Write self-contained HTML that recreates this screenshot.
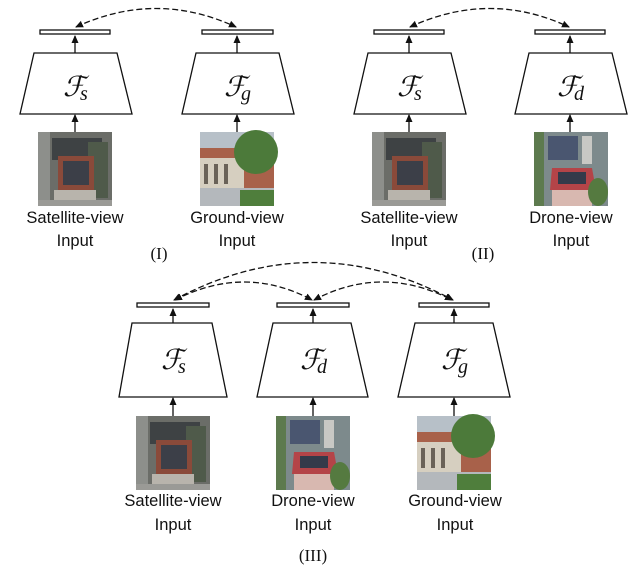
<!DOCTYPE html>
<html><head><meta charset="utf-8"><style>
html,body{margin:0;padding:0;background:#fff;}
svg{display:block;}
.lbl{font-family:"Liberation Sans",sans-serif;font-size:16.5px;fill:#111;text-anchor:middle;}
.rom{font-family:"Liberation Serif",serif;font-size:17px;fill:#111;text-anchor:middle;}
.F{font-family:"Liberation Serif","DejaVu Serif",serif;font-style:italic;font-size:28px;fill:#111;}
.sub{font-family:"Liberation Serif",serif;font-style:italic;font-size:20px;fill:#111;}
</style></head><body>
<svg width="640" height="575" viewBox="0 0 640 575" xmlns="http://www.w3.org/2000/svg">
<defs>
<marker id="ah" markerWidth="8" markerHeight="8" refX="7" refY="4" orient="auto-start-reverse" markerUnits="userSpaceOnUse"><path d="M0,0.5 L8,4 L0,7.5 z" fill="#111"/></marker>
<g id="sat">
<rect x="0" y="0" width="74" height="74" fill="#6b6d68"/>
<rect x="0" y="0" width="12" height="74" fill="#8d8f8b"/>
<rect x="14" y="6" width="50" height="22" fill="#3e4244"/>
<rect x="50" y="10" width="20" height="56" fill="#4f5a4a"/>
<rect x="20" y="24" width="36" height="34" fill="#8a4a3a"/>
<rect x="25" y="29" width="26" height="24" fill="#3c3f48"/>
<rect x="16" y="58" width="42" height="10" fill="#b8b4ac"/>
<rect x="0" y="68" width="74" height="6" fill="#9a9a96"/>
</g>
<g id="gnd">
<rect x="0" y="0" width="74" height="74" fill="#b7c0c8"/>
<rect x="0" y="16" width="74" height="40" fill="#a8614a"/>
<rect x="0" y="26" width="44" height="30" fill="#d6cfc0"/>
<rect x="4" y="32" width="4" height="20" fill="#6a6258"/><rect x="14" y="32" width="4" height="20" fill="#6a6258"/><rect x="24" y="32" width="4" height="20" fill="#6a6258"/>
<ellipse cx="56" cy="20" rx="22" ry="22" fill="#4c7a3a"/>
<rect x="0" y="56" width="74" height="18" fill="#b4b8bc"/>
<rect x="40" y="58" width="34" height="16" fill="#4f7e3c"/>
</g>
<g id="drn">
<rect x="0" y="0" width="74" height="74" fill="#7d8a8c"/>
<rect x="14" y="4" width="30" height="24" fill="#4a5670"/>
<rect x="48" y="4" width="10" height="28" fill="#c8c8c4"/>
<rect x="0" y="0" width="10" height="74" fill="#5d7a4e"/>
<polygon points="18,36 58,36 62,58 16,58" fill="#b44448"/>
<rect x="24" y="40" width="28" height="12" fill="#343a4a"/>
<rect x="18" y="58" width="40" height="16" fill="#d8b8b0"/>
<ellipse cx="64" cy="60" rx="10" ry="14" fill="#557a40"/>
</g>
</defs>

<g stroke="#111" stroke-width="1.3" fill="none">
<!-- Panel I -->
<rect x="40" y="30" width="70" height="4" fill="#fff"/>
<rect x="202" y="30" width="71" height="4" fill="#fff"/>
<polygon points="34,53 117,53 132,114 20,114" fill="#fff"/>
<polygon points="196,53 279,53 294,114 182,114" fill="#fff"/>
<path d="M75,53 L75,36" marker-end="url(#ah)"/>
<path d="M237,53 L237,36" marker-end="url(#ah)"/>
<path d="M75,132 L75,115" marker-end="url(#ah)"/>
<path d="M237,132 L237,115" marker-end="url(#ah)"/>
<path d="M76,27 Q156,-10 236,27" stroke-dasharray="6,3" marker-start="url(#ah)" marker-end="url(#ah)"/>

<!-- Panel II -->
<rect x="374" y="30" width="70" height="4" fill="#fff"/>
<rect x="535" y="30" width="70" height="4" fill="#fff"/>
<polygon points="368,53 451,53 466,114 354,114" fill="#fff"/>
<polygon points="529,53 612,53 627,114 515,114" fill="#fff"/>
<path d="M409,53 L409,36" marker-end="url(#ah)"/>
<path d="M570,53 L570,36" marker-end="url(#ah)"/>
<path d="M409,132 L409,115" marker-end="url(#ah)"/>
<path d="M570,132 L570,115" marker-end="url(#ah)"/>
<path d="M410,27 Q490,-10 569,27" stroke-dasharray="6,3" marker-start="url(#ah)" marker-end="url(#ah)"/>

<!-- Panel III -->
<rect x="137" y="303" width="72" height="4" fill="#fff"/>
<rect x="277" y="303" width="72" height="4" fill="#fff"/>
<rect x="419" y="303" width="70" height="4" fill="#fff"/>
<polygon points="132,323 212,323 227,397 119,397" fill="#fff"/>
<polygon points="273,323 351,323 368,397 257,397" fill="#fff"/>
<polygon points="415,323 493,323 510,397 398,397" fill="#fff"/>
<path d="M173,323 L173,309" marker-end="url(#ah)"/>
<path d="M313,323 L313,309" marker-end="url(#ah)"/>
<path d="M454,323 L454,309" marker-end="url(#ah)"/>
<path d="M173,416 L173,398" marker-end="url(#ah)"/>
<path d="M313,416 L313,398" marker-end="url(#ah)"/>
<path d="M454,416 L454,398" marker-end="url(#ah)"/>
<path d="M174,300 Q313,225 453,300" stroke-dasharray="6,3" marker-start="url(#ah)" marker-end="url(#ah)"/>
<path d="M175,300 Q245,264 312,300" stroke-dasharray="6,3" marker-start="url(#ah)" marker-end="url(#ah)"/>
<path d="M314,300 Q382,264 452,300" stroke-dasharray="6,3" marker-start="url(#ah)" marker-end="url(#ah)"/>
</g>

<use href="#sat" x="38" y="132"/>
<use href="#gnd" x="200" y="132"/>
<use href="#sat" x="372" y="132"/>
<use href="#drn" x="534" y="132"/>
<use href="#sat" x="136" y="416"/>
<use href="#drn" x="276" y="416"/>
<use href="#gnd" x="417" y="416"/>

<text x="63" y="96" class="F">ℱ</text><text x="80" y="100" class="sub">s</text>
<text x="224" y="96" class="F">ℱ</text><text x="241" y="100" class="sub">g</text>
<text x="397" y="96" class="F">ℱ</text><text x="414" y="100" class="sub">s</text>
<text x="557" y="96" class="F">ℱ</text><text x="574" y="100" class="sub">d</text>
<text x="161" y="369" class="F">ℱ</text><text x="178" y="373" class="sub">s</text>
<text x="300" y="369" class="F">ℱ</text><text x="317" y="373" class="sub">d</text>
<text x="441" y="369" class="F">ℱ</text><text x="458" y="373" class="sub">g</text>

<text x="75" y="223" class="lbl">Satellite-view</text><text x="75" y="246" class="lbl">Input</text>
<text x="237" y="223" class="lbl">Ground-view</text><text x="237" y="246" class="lbl">Input</text>
<text x="409" y="223" class="lbl">Satellite-view</text><text x="409" y="246" class="lbl">Input</text>
<text x="571" y="223" class="lbl">Drone-view</text><text x="571" y="246" class="lbl">Input</text>
<text x="173" y="506" class="lbl">Satellite-view</text><text x="173" y="530" class="lbl">Input</text>
<text x="313" y="506" class="lbl">Drone-view</text><text x="313" y="530" class="lbl">Input</text>
<text x="455" y="506" class="lbl">Ground-view</text><text x="455" y="530" class="lbl">Input</text>
<text x="159" y="259" class="rom">(I)</text>
<text x="483" y="259" class="rom">(II)</text>
<text x="313" y="561" class="rom">(III)</text>
</svg>
</body></html>
